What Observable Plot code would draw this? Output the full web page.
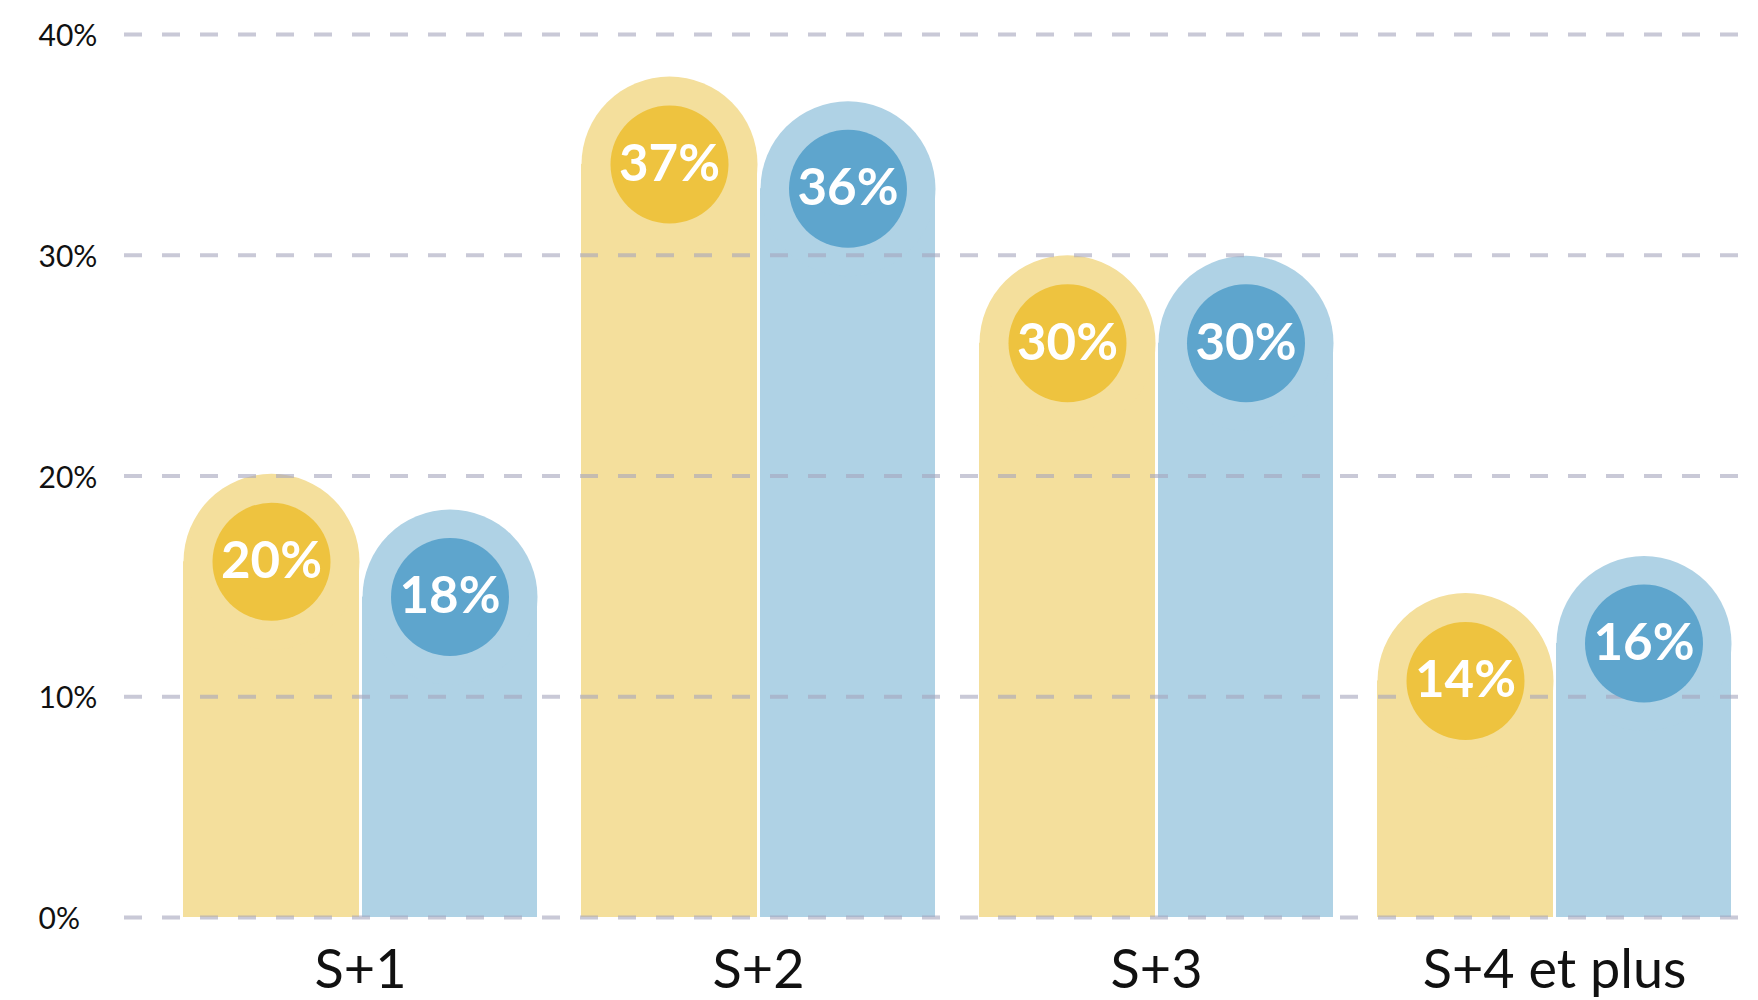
<!DOCTYPE html>
<html>
<head>
<meta charset="utf-8">
<script src="https://cdn.jsdelivr.net/npm/d3@7"></script>
<script src="https://cdn.jsdelivr.net/npm/@observablehq/plot@0.6"></script>
<style>
  body { margin: 0; background: #ffffff; }
  #chart svg { display: block; }
</style>
</head>
<body>
<div id="chart"></div>
<script>
// ---- data ----
const categories = ["S+1", "S+2", "S+3", "S+4 et plus"];
const seriesYellow = [20.1, 38.1, 30.0, 14.7];   // bar heights (%)
const seriesBlue   = [18.5, 37.0, 30.0, 16.4];   // bar heights (%)
const labelsYellow = ["20%", "37%", "30%", "14%"];
const labelsBlue   = ["18%", "36%", "30%", "16%"];
const yTicks = [0, 10, 20, 30, 40];
const yTickLabels = ["0%", "10%", "20%", "30%", "40%"];

// ---- styles ----
const lightYellow = "#f4df9c", darkYellow = "#eec33f";
const lightBlue = "#afd2e5", darkBlue = "#5ea5cd";
const font = "Lato, 'Noto Sans', sans-serif";

const rowsY = categories.map((c, i) => ({cat: c, value: seriesYellow[i], label: labelsYellow[i]}));
const rowsB = categories.map((c, i) => ({cat: c, value: seriesBlue[i], label: labelsBlue[i]}));
const ticks = yTicks.map((t, i) => ({t, label: yTickLabels[i]}));

const RY = 88, RB = 87.5;     // rounded-top radii (half bar widths, px)
const D = 88;                 // disc centre offset below bar top (px)
const r = 59;                 // inner circle radius

const chart = Plot.plot({
  width: 1758,
  height: 1000,
  marginLeft: 110,
  marginRight: 0,
  marginTop: 34,
  marginBottom: 83,
  style: {fontFamily: font, background: "#ffffff"},
  x: {domain: categories, paddingInner: 0.11, paddingOuter: 0.125, align: 0.73, axis: null},
  y: {domain: [0, 40], axis: null},
  marks: [
    // yellow bars with rounded tops
    Plot.barY(rowsY, {x: "cat", y: "value", fill: lightYellow, insetRight: 178, insetTop: D}),
    Plot.dot(rowsY, {x: "cat", y: "value", r: RY, dx: -89, dy: D, fill: lightYellow}),
    // blue bars with rounded tops
    Plot.barY(rowsB, {x: "cat", y: "value", fill: lightBlue, insetLeft: 179, insetTop: D}),
    Plot.dot(rowsB, {x: "cat", y: "value", r: RB, dx: 89.5, dy: D, fill: lightBlue}),
    // dashed gridlines
    Plot.ruleY(ticks, {y: "t", insetLeft: 14, stroke: "#a5a5bd", strokeOpacity: 0.6, strokeWidth: 4, strokeDasharray: "18,20"}),
    // value circles
    Plot.dot(rowsY, {x: "cat", y: "value", r: r, dx: -89, dy: D, fill: darkYellow}),
    Plot.dot(rowsB, {x: "cat", y: "value", r: r, dx: 89.5, dy: D, fill: darkBlue}),
    Plot.text(rowsY, {x: "cat", y: "value", text: "label", dx: -89, dy: D, fill: "#ffffff", fontSize: 51, fontWeight: 700}),
    Plot.text(rowsB, {x: "cat", y: "value", text: "label", dx: 89.5, dy: D, fill: "#ffffff", fontSize: 51, fontWeight: 700}),
    // y tick labels
    Plot.text(ticks, {y: "t", text: "label", frameAnchor: "left", textAnchor: "start", dx: -72, dy: 2, fontSize: 30, fill: "#111111"}),
    // x category labels
    Plot.text(categories, {x: d => d, text: d => d, frameAnchor: "bottom", dy: 70, fontSize: 54, fill: "#111111"})
  ]
});
document.getElementById("chart").appendChild(chart);
</script>
</body>
</html>
